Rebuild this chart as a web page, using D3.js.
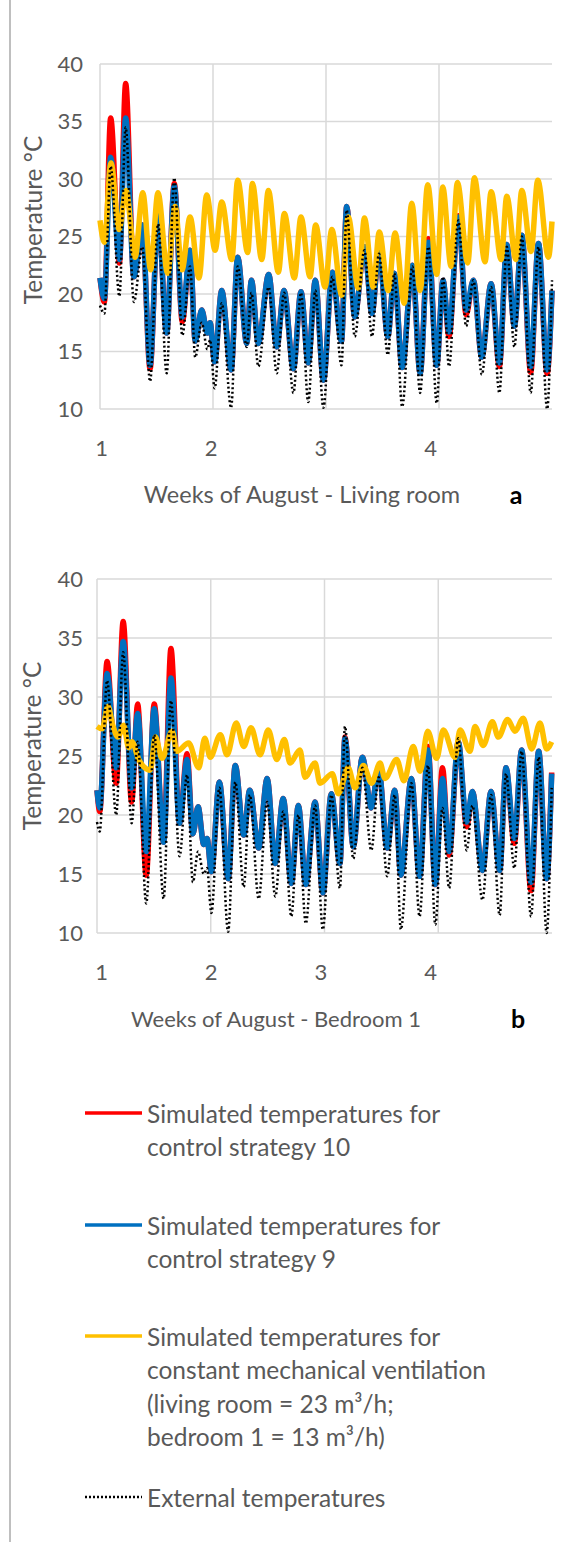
<!DOCTYPE html>
<html>
<head>
<meta charset="utf-8">
<script src="https://cdn.jsdelivr.net/npm/d3@7"></script>
<style>
  body { margin: 0; background: #fff; }
  text { font-family: Lato, "Open Sans", sans-serif; }
</style>
</head>
<body>
<div id="chart"></div>
<script>
// time in days from the start of week 1
var livingT = [0,0.27,0.66,1.2,1.59,2.1,2.62,3.1,3.6,4.13,4.6,5.1,5.58,5.9,6.3,6.65,6.82,7.1,7.54,8.12,8.53,9.09,9.38,9.81,10.45,10.95,11.4,11.98,12.45,12.9,13.34,13.84,14.39,14.96,15.28,15.78,16.38,16.85,17.28,17.83,18.23,18.72,19.35,19.83,20.34,20.86,21.25,21.62,22.2,22.68,23.13,23.65,24.23,24.74,25.2,25.67,26.13,26.68,27.16,27.7,28.0];
var livingRed = [21.4,19.3,35.3,22.7,38.3,21.5,26.0,13.5,27.0,16.6,29.6,17.6,23.8,15.9,18.6,16.6,17.5,14.1,20.3,13.4,23.2,15.7,21.2,15.7,21.7,15.4,20.3,13.5,20.2,14.0,21.2,12.5,21.9,15.9,27.6,18.0,24.1,18.3,23.8,16.3,21.8,13.6,22.5,13.1,24.8,13.8,21.2,16.3,26.8,18.2,21.2,14.5,20.9,13.7,24.3,17.2,25.1,13.2,24.4,13.1,20.3];
var livingBlue = [21.4,19.6,31.9,23.0,35.3,21.5,26.0,13.8,26.9,16.6,29.4,18.0,23.8,15.9,18.6,16.6,17.5,14.1,20.3,13.4,23.2,15.7,21.2,15.7,21.7,15.4,20.3,13.5,20.2,14.0,21.2,12.5,21.9,15.9,27.6,18.0,24.1,18.3,23.8,16.3,21.8,13.6,22.5,13.1,24.5,13.8,21.2,16.7,26.7,18.6,21.2,14.5,20.9,14.0,24.3,17.2,25.1,13.7,24.4,13.4,20.3];
var livingExt = [19.0,18.3,31.1,19.8,34.5,19.3,24.1,12.4,26.1,13.1,30.1,16.4,22.4,14.5,17.5,15.2,16.0,11.8,19.2,10.1,22.4,15.4,20.1,13.7,20.6,13.1,20.1,11.4,20.1,10.6,20.3,10.1,21.5,13.8,27.3,16.3,23.8,16.3,23.5,14.7,21.8,10.2,22.4,11.4,24.1,10.5,21.5,13.7,26.4,17.2,21.2,13.0,20.6,11.4,24.1,15.4,25.0,11.4,24.1,10.0,21.2];
var livingVentT = [0,0.27,0.68,1.18,1.61,2.17,2.65,3.14,3.59,4.19,4.65,5.08,5.58,6.13,6.61,7.13,7.54,8.16,8.53,9.15,9.44,10.02,10.43,11.05,11.42,12.04,12.45,13.01,13.36,13.94,14.36,14.98,15.38,16.0,16.38,16.93,17.3,17.86,18.28,18.85,19.31,19.83,20.3,20.86,21.23,21.75,22.14,22.78,23.19,23.85,24.23,24.85,25.2,25.76,26.13,26.7,27.12,27.78,28.0];
var livingVent = [26.4,24.5,31.4,25.6,29.0,23.2,28.8,22.1,28.8,21.8,27.6,22.1,26.7,21.4,28.6,23.8,28.0,23.0,29.9,23.6,29.6,23.0,29.0,21.9,27.0,21.4,26.7,21.5,26.0,20.6,25.6,19.9,26.7,20.5,26.6,20.6,25.4,20.3,25.3,19.2,27.9,20.3,29.5,21.7,29.3,22.4,29.7,22.7,30.1,22.8,28.9,23.0,28.5,23.0,29.0,23.7,29.9,23.2,26.3];

var bedT = [0,0.17,0.62,1.18,1.61,2.13,2.5,3.03,3.52,4.1,4.55,5.08,5.54,5.9,6.22,6.57,6.77,7.04,7.53,8.07,8.51,9.03,9.4,9.95,10.47,10.97,11.46,11.96,12.39,12.85,13.42,13.9,14.42,14.95,15.26,15.77,16.33,16.88,17.33,17.86,18.32,18.7,19.35,19.85,20.37,20.82,21.26,21.67,22.23,22.75,23.1,23.72,24.25,24.78,25.17,25.68,26.13,26.71,27.18,27.67,27.98];
var bedRed = [22.1,20.3,33.0,22.7,36.4,21.1,29.4,14.9,29.4,17.7,34.1,19.3,25.2,18.4,20.7,17.5,18.0,15.2,22.8,14.6,24.2,18.3,22.1,17.2,23.1,15.9,21.4,14.2,20.8,14.1,21.1,13.4,21.8,15.9,26.6,17.3,24.9,20.6,24.0,17.2,22.1,14.9,23.1,14.8,25.8,14.1,24.0,16.6,26.2,19.0,22.0,15.3,22.0,15.3,24.0,17.6,25.5,13.6,25.4,14.6,23.6];
var bedBlue = [22.1,20.6,32.0,24.0,34.7,22.3,28.6,16.9,29.0,17.7,31.6,19.3,24.7,18.4,20.7,17.5,18.0,15.2,22.8,14.6,24.2,18.3,22.1,17.2,23.1,15.9,21.4,14.2,20.8,14.1,21.1,13.4,21.8,15.9,26.5,17.3,24.9,20.6,24.0,17.2,22.1,14.9,23.1,14.8,25.5,14.1,23.1,16.9,26.2,19.4,22.0,15.3,22.0,15.3,24.0,18.0,25.5,14.3,25.4,14.6,23.5];
var bedExt = [19.4,18.6,31.4,20.0,33.8,19.3,26.2,12.5,26.8,12.9,29.7,16.5,23.4,14.3,16.9,15.0,15.5,11.7,22.3,10.1,22.8,13.9,21.7,12.9,21.1,13.1,20.3,11.4,20.0,10.8,20.8,10.3,21.7,13.8,27.5,16.3,24.0,17.0,23.2,14.8,21.7,10.3,22.7,11.4,24.2,10.7,20.6,13.8,26.5,17.0,20.8,12.8,21.7,11.5,23.5,15.5,25.4,11.4,24.9,10.0,22.3];
var bedVentT = [0,0.31,0.68,0.97,1.29,1.64,1.95,2.15,2.57,2.87,3.28,3.59,4.0,4.62,4.92,5.64,6.26,6.63,6.97,7.59,8.0,8.57,9.03,9.48,10.03,10.54,11.06,11.53,11.88,12.49,12.8,13.42,13.72,14.48,14.85,15.46,15.88,16.39,16.9,17.42,17.72,18.44,18.89,19.46,19.88,20.35,20.9,21.31,22.03,22.34,22.95,23.26,23.77,24.33,24.7,25.27,25.72,26.23,26.75,27.26,27.67,27.98];
var bedVent = [27.5,27.3,29.2,27.6,26.6,27.6,25.7,26.2,24.7,24.1,23.8,26.6,24.8,27.1,25.4,26.1,24.0,26.5,24.9,26.8,25.1,27.8,25.8,27.4,25.1,27.2,24.7,26.4,24.4,25.5,23.2,24.4,22.7,23.5,21.8,24.0,22.3,24.2,22.7,24.4,23.1,24.7,22.9,25.8,23.7,27.1,24.8,27.2,24.9,27.2,25.4,27.5,25.9,27.9,26.6,28.1,27.1,28.2,25.6,27.8,25.6,26.2];

var yTicks = [10, 15, 20, 25, 30, 35, 40];
var weekTicks = [1, 2, 3, 4];
var gridDays = [0, 7, 14, 21];

var legendLabels = [
    ['Simulated temperatures for', 'control strategy 10'],
    ['Simulated temperatures for', 'control strategy 9'],
    ['Simulated temperatures for', 'constant mechanical ventilation', '(living room = 23 m\u00b3/h;', 'bedroom 1 = 13 m\u00b3/h)'],
    ['External temperatures']
];

var col_red = '#FF0000';
var col_blue = '#0070C0';
var col_yellow = '#FFC000';
var col_black = '#000000';
var col_grid = '#D9D9D9';
var col_text = '#595959';

var svg = d3.select('#chart').append('svg')
    .attr('width', 569)
    .attr('height', 1542);

// frame line on the left
svg.append('line')
    .attr('x1', 10).attr('x2', 10)
    .attr('y1', 0).attr('y2', 1542)
    .attr('stroke', '#BFBFBF')
    .attr('stroke-width', 2);

function drawPanel(opt) {
    var x = d3.scaleLinear().domain([0, 28]).range([opt.left, opt.right]);
    var y = d3.scaleLinear().domain([10, 40]).range([opt.bottom, opt.top]);
    var weekX = d3.scaleLinear().domain([1, 4]).range([101, 430]);

    var g = svg.append('g');

    g.append('g').selectAll('line')
        .data(yTicks).enter().append('line')
        .attr('x1', opt.left).attr('x2', opt.right)
        .attr('y1', function(d) { return y(d); })
        .attr('y2', function(d) { return y(d); })
        .attr('stroke', col_grid)
        .attr('stroke-width', 1.5);

    g.append('g').selectAll('line')
        .data(gridDays).enter().append('line')
        .attr('x1', function(d) { return x(d); })
        .attr('x2', function(d) { return x(d); })
        .attr('y1', opt.top).attr('y2', opt.bottom)
        .attr('stroke', col_grid)
        .attr('stroke-width', 1.5);

    var yAxis = g.append('g')
        .attr('transform', 'translate(83,0)')
        .call(d3.axisLeft(y).tickValues(yTicks).tickSize(0).tickPadding(0));
    yAxis.select('.domain').remove();
    yAxis.selectAll('text')
        .style('font-family', 'Lato, sans-serif')
        .style('font-size', '22px')
        .attr('fill', col_text);

    var xAxis = g.append('g')
        .attr('transform', 'translate(0,' + (opt.bottom + 31) + ')')
        .call(d3.axisBottom(weekX).tickValues(weekTicks).tickSize(0).tickPadding(0).tickFormat(d3.format('d')));
    xAxis.select('.domain').remove();
    xAxis.selectAll('text')
        .style('font-family', 'Lato, sans-serif')
        .style('font-size', '22px')
        .attr('fill', col_text);

    g.append('text')
        .attr('transform', 'translate(' + opt.yTitleX + ',' + opt.yTitleY + ') rotate(-90)')
        .attr('text-anchor', 'middle')
        .attr('dominant-baseline', 'central')
        .style('font-size', '24.5px')
        .attr('fill', col_text)
        .text('Temperature \u00b0C');

    g.append('text')
        .attr('x', opt.titleX)
        .attr('y', opt.titleY)
        .attr('text-anchor', 'middle')
        .attr('dominant-baseline', 'central')
        .style('font-size', opt.titleSize)
        .attr('fill', col_text)
        .text(opt.title);

    g.append('text')
        .attr('x', opt.tagX)
        .attr('y', opt.titleY)
        .attr('text-anchor', 'middle')
        .attr('dominant-baseline', 'central')
        .style('font-size', '25px')
        .style('font-weight', 'bold')
        .attr('fill', '#000')
        .text(opt.tag);

    var line = d3.line()
        .x(function(d) { return x(d[0]); })
        .y(function(d) { return y(d[1]); })
        .curve(d3.curveMonotoneX);

    function zip(t, v) {
        return t.map(function(d, i) { return [d, v[i]]; });
    }

    g.append('path').datum(zip(opt.t, opt.red))
        .attr('d', line).attr('fill', 'none')
        .attr('stroke', col_red).attr('stroke-width', 5.5).attr('stroke-linejoin', 'round');
    g.append('path').datum(zip(opt.t, opt.blue))
        .attr('d', line).attr('fill', 'none')
        .attr('stroke', col_blue).attr('stroke-width', 5.5).attr('stroke-linejoin', 'round');
    g.append('path').datum(zip(opt.ventT, opt.vent))
        .attr('d', line).attr('fill', 'none')
        .attr('stroke', col_yellow).attr('stroke-width', 5.5).attr('stroke-linejoin', 'round');
    g.append('path').datum(zip(opt.t, opt.ext))
        .attr('d', line).attr('fill', 'none')
        .attr('stroke', col_black).attr('stroke-width', 2.5)
        .attr('stroke-dasharray', '2,2.5');
}

drawPanel({
    left: 100, right: 552, top: 64, bottom: 409,
    yTitleX: 32, yTitleY: 220, titleX: 302, titleY: 494, tagX: 516, titleSize: '23.5px',
    title: 'Weeks of August - Living room', tag: 'a',
    t: livingT, red: livingRed, blue: livingBlue, ext: livingExt,
    ventT: livingVentT, vent: livingVent
});

drawPanel({
    left: 97, right: 552, top: 579, bottom: 933,
    yTitleX: 31, yTitleY: 746, titleX: 276, titleY: 1018, tagX: 518, titleSize: '22px',
    title: 'Weeks of August - Bedroom 1', tag: 'b',
    t: bedT, red: bedRed, blue: bedBlue, ext: bedExt,
    ventT: bedVentT, vent: bedVent
});

// legend
var legendColors = [col_red, col_blue, col_yellow, col_black];
var legendY = [1113, 1225, 1336, 1497];
var lineGap = 33.5;

var legend = svg.append('g');
legendLabels.forEach(function(lines, i) {
    var item = legend.append('g').attr('transform', 'translate(0,' + legendY[i] + ')');
    item.append('line')
        .attr('x1', 85).attr('x2', 142)
        .attr('y1', 0).attr('y2', 0)
        .attr('stroke', legendColors[i])
        .attr('stroke-width', i == 3 ? 2.5 : 3.5)
        .attr('stroke-dasharray', i == 3 ? '2,2' : null);
    item.selectAll('text')
        .data(lines).enter().append('text')
        .attr('x', 147)
        .attr('y', function(d, k) { return k * lineGap; })
        .attr('dominant-baseline', 'central')
        .style('font-size', '24.5px')
        .attr('fill', col_text)
        .text(function(d) { return d; });
});
</script>
</body>
</html>
